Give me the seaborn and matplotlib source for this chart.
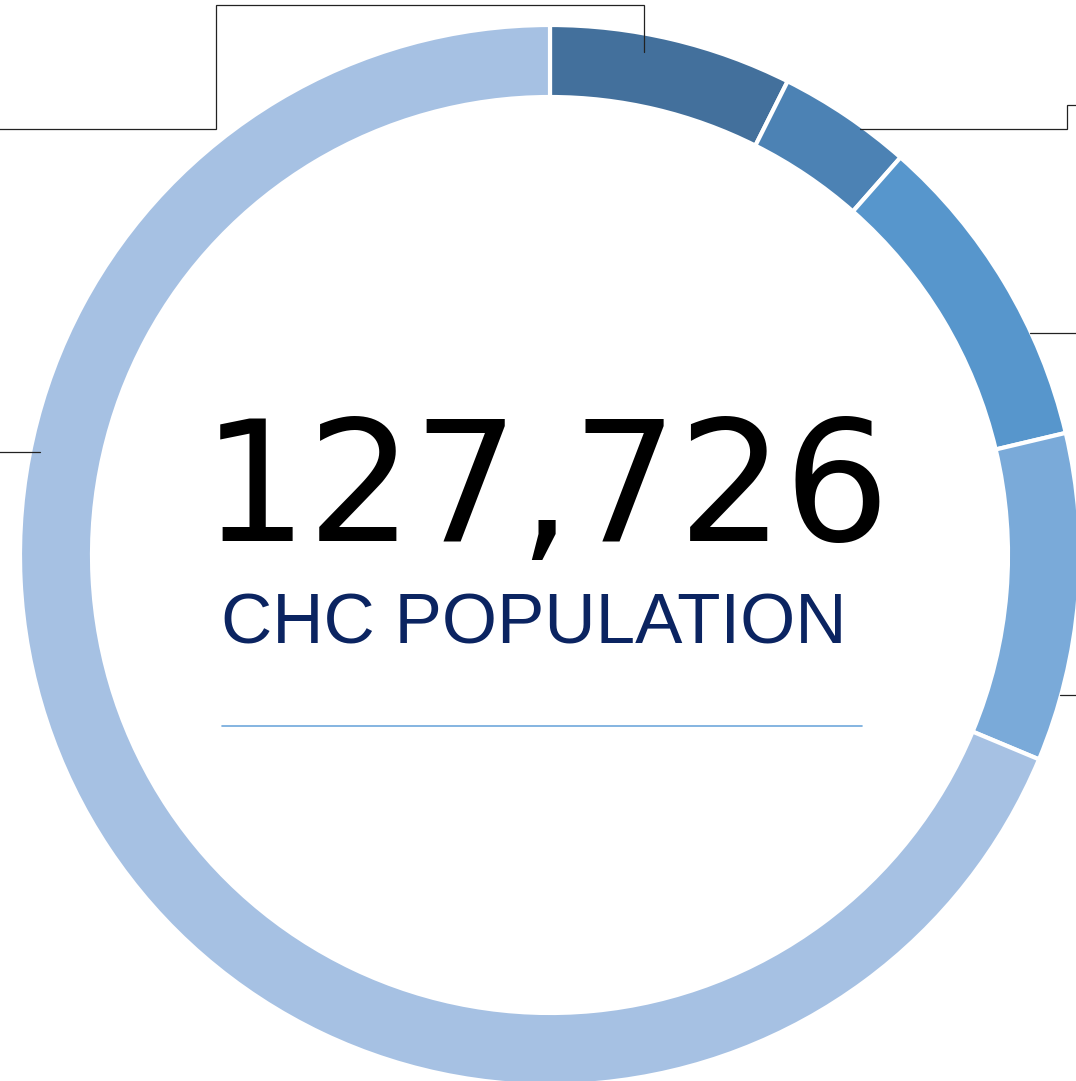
import matplotlib
matplotlib.use("Agg")
import matplotlib.pyplot as plt
import seaborn as sns

# Share of the ring (%), clockwise from 12 o'clock
segments = ["Seg 1", "Seg 2", "Seg 3", "Seg 4", "Rest"]
shares = [7.4, 4.1, 9.8, 10.0, 68.7]
colors = ["#43709c", "#4c82b4", "#5796cc", "#7aaad9", "#a6c1e3"]

total_label = "127,726"
subtitle = "CHC POPULATION"

# canvas / ring geometry in pixels (the chart is cropped by the frame)
W, H = 1076, 1081
CX, CY = 550, 555
R = 530
RING = 72


def to_data(px, py):
    return (px - CX) / R, (CY - py) / R


# leader lines -- their labels sit outside the visible crop
leaders = [
    [(644, 52), (644, 5), (216, 5), (216, 129), (-5, 129)],
    [(860, 129), (1067, 129), (1067, 105), (1085, 105)],
    [(1030, 333), (1085, 333)],
    [(1060, 695), (1085, 695)],
    [(40, 452), (-5, 452)],
]

sns.set_theme(style="white")
plt.rcParams['font.family'] = ['Liberation Sans', 'DejaVu Sans']

fig = plt.figure(figsize=(W / 100, H / 100), dpi=100)
ax = fig.add_axes([0, 0, 1, 1])

ax.pie(shares, colors=colors, startangle=90, counterclock=False, radius=1,
       wedgeprops=dict(width=RING / R, edgecolor="white", linewidth=3))

for path in leaders:
    xs, ys = zip(*[to_data(px, py) for px, py in path])
    ax.plot(xs, ys, color="#222222", lw=0.9, zorder=5, solid_joinstyle="miter")

# centre text
x, y = to_data(546, 541)
ax.text(x, y, total_label, ha="center", va="baseline", fontsize=120,
        color="black", family=["DejaVu Sans"])
x, y = to_data(534, 644)
ax.text(x, y, subtitle, ha="center", va="baseline", fontsize=51, color="#0b2461")

x0, y0 = to_data(222, 726)
x1, y1 = to_data(862, 726)
ax.plot([x0, x1], [y0, y1], color="#6fa8dc", lw=1.2)

ax.set_xlim(-CX / R, (W - CX) / R)
ax.set_ylim(-(H - CY) / R, CY / R)
ax.set_aspect("equal")
ax.axis("off")

plt.savefig("out.png", dpi=100)
plt.close()
